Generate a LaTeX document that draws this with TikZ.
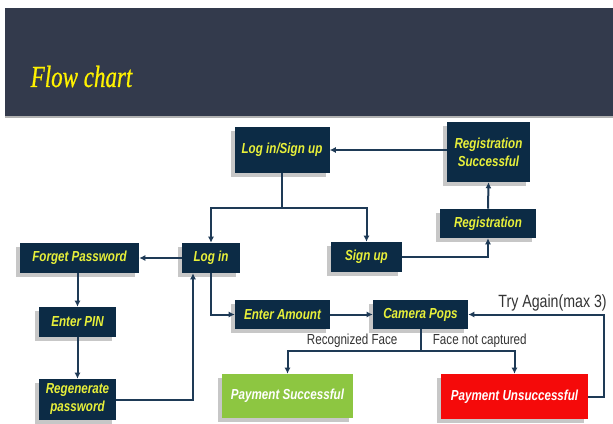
\documentclass[tikz,border=0pt]{standalone}
\usepackage{fontspec}
\usetikzlibrary{arrows.meta,positioning,shadows}
\newfontfamily\boxfont{Liberation Sans}[FakeStretch=0.8]
\newfontfamily\titlefont{Liberation Serif}[FakeStretch=0.75, FakeBold=0.6]
\definecolor{bannerbg}{HTML}{333A4C}
\definecolor{boxnavy}{HTML}{0C2B45}
\definecolor{boxtext}{HTML}{E8F03A}
\definecolor{linkcol}{HTML}{1E3A56}
\definecolor{okgreen}{HTML}{8DC641}
\definecolor{failred}{HTML}{F50A0A}

\begin{document}
\begin{tikzpicture}[
  x=0.75pt, y=-0.75pt,
  every node/.style={align=center},
  flowbox/.style={rectangle, fill=boxnavy, text=boxtext, inner sep=0pt,
                  font=\boxfont\bfseries\itshape\fontsize{10.9}{13.5}\selectfont,
                  drop shadow={shadow xshift=-3pt, shadow yshift=-3pt, fill=black, opacity=0.22}},
  payok/.style={flowbox, fill=okgreen, text=white},
  payfail/.style={flowbox, fill=failred, text=white},
  link/.style={draw=linkcol, line width=1.5pt, -{Latex[length=4.5pt,width=4.5pt]}},
  edgelab/.style={font=\boxfont\fontsize{10.9}{12}\selectfont, text=black!80, inner sep=1.5pt}
]
\useasboundingbox (0,0) rectangle (613,424);

% Banner
\fill[bannerbg] (5,8) rectangle (613,117);
\draw[color=gray!60, line width=0.8pt] (5,117) -- (613,117);
\node[anchor=base west, text=yellow, font=\titlefont\itshape\fontsize{23}{26}\selectfont] (title) at (26,87) {Flow chart};

% Top row
\node[flowbox, minimum width=71.25pt, minimum height=33.75pt] (lsu) at (282,150) {Log in/Sign up};
\node[flowbox, minimum width=62.25pt, minimum height=45pt] (regok) at (488.5,152) {Registration\\Successful};
\node[flowbox, minimum width=72pt, minimum height=21.75pt] (reg) at (488,223.5) {Registration};

% Second row
\node[flowbox, minimum width=89.25pt, minimum height=22.5pt] (forget) at (79.5,258) {Forget Password};
\node[flowbox, minimum width=43.5pt, minimum height=22.5pt] (login) at (211,258) {Log in};
\node[flowbox, minimum width=53.25pt, minimum height=22.5pt] (signup) at (366.5,257) {Sign up};

% Password branch
\node[flowbox, minimum width=57.75pt, minimum height=22.5pt] (pin) at (77.5,322) {Enter PIN};
\node[flowbox, minimum width=57.75pt, minimum height=30.75pt] (regen) at (77.5,399.5) {Regenerate\\password};

% Payment branch
\node[flowbox, minimum width=71.25pt, minimum height=21.75pt] (amount) at (282.5,314.5) {Enter Amount};
\node[flowbox, minimum width=71.25pt, minimum height=21.75pt] (camera) at (420.5,314.5) {Camera Pops};
\node[payok, minimum width=98.25pt, minimum height=33pt] (paysucc) at (287.5,396) {Payment Successful};
\node[payfail, minimum width=110.25pt, minimum height=33.75pt] (payfail) at (514.5,396.5) {Payment Unsuccessful};

% Edges - sign up
\draw[link] (regok.west |- lsu.east) -- (lsu.east);
\draw[link] (reg.north) -- (regok.south);
\draw[link] (signup.east) -| (reg.south);
\draw[link] (lsu.south) -- ++(0,35) -| (login.north);
\draw[link] (lsu.south) -- ++(0,35) -| (signup.north);

% Edges - password
\draw[link] (login.west) -- (forget.east);
\draw[link] (pin.north |- forget.south) -- (pin.north);
\draw[link] (pin.south) -- (regen.north);
\draw[link] (regen.east) -| ([xshift=-13.5pt]login.south);

% Edges - payment
\draw[link] (login.south) |- (amount.west);
\draw[link] (amount.east) -- (camera.west);
\draw[link] (camera.south) -- ++(0,21.5) -| node[edgelab, pos=0.257, above] (recog) {Recognized Face} (paysucc.north);
\draw[link] (camera.south) -- ++(0,21.5) -| node[edgelab, pos=0.315, above] (nocap) {Face not captured} (payfail.north);
\draw[link] (payfail.east) -- ++(16,0) |- node[edgelab, pos=0.69, above=0pt, font=\boxfont\fontsize{13.3}{15}\selectfont] (retry) {Try Again(max 3)} (camera.east);

\end{tikzpicture}
\end{document}
